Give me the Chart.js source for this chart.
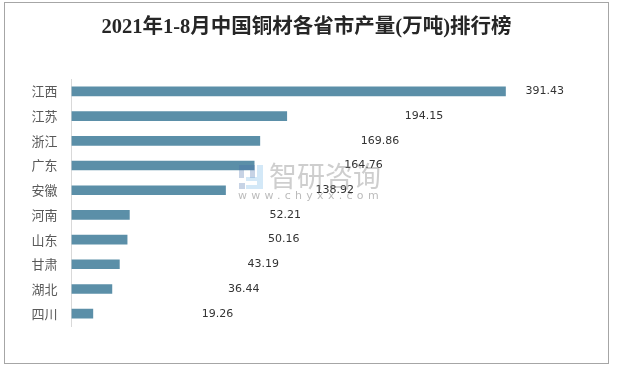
<!DOCTYPE html>
<html><head><meta charset="utf-8">
<style>html,body{margin:0;padding:0;background:#fff}#w{position:relative;width:617px;height:368px}canvas{display:block}</style>
<script src="https://cdn.jsdelivr.net/npm/chart.js@4"></script></head>
<body><div id="w"><canvas id="c" width="617" height="368"></canvas></div>
<script>
const titleText = '2021年1-8月中国铜材各省市产量(万吨)排行榜';
const categories = ['江西','江苏','浙江','广东','安徽','河南','山东','甘肃','湖北','四川'];
const values = [391.43,194.15,169.86,164.76,138.92,52.21,50.16,43.19,36.44,19.26];
const labelGaps = [20,118,101,90,90,140,141,128,116,109];

const cjk = '"Noto Sans CJK SC"';
const frame = {
  id:'frame',
  beforeDraw(ch){
    const g=ch.ctx; g.save();
    g.fillStyle='#fff'; g.fillRect(0,0,617,368);
    g.strokeStyle='#a6a6a6'; g.lineWidth=1; g.strokeRect(4.5,2.5,604,361);
    g.restore();
  }
};
const valueLabels = {
  id:'valueLabels',
  afterDatasetsDraw(ch){
    const g=ch.ctx, m=ch.getDatasetMeta(0); g.save();
    g.font='11px "DejaVu Sans"'; g.fillStyle='#333333'; g.textAlign='left'; g.textBaseline='middle';
    m.data.forEach((b,i)=>g.fillText(values[i].toFixed(2), b.x+labelGaps[i], b.y));
    g.restore();
  }
};
const watermark = {
  id:'watermark',
  afterDatasetsDraw(ch){
    const g=ch.ctx; g.save();
    g.fillStyle='rgba(70,110,170,0.3)';
    g.fillRect(239,165,16,5); g.fillRect(239,170,5,8); g.fillRect(250,170,5,8); g.fillRect(239,183,6,6);
    g.fillStyle='rgba(110,180,230,0.3)';
    g.fillRect(257,165,6,24); g.fillRect(246,177,11,4); g.fillRect(246,185,11,4);
    g.fillStyle='rgba(120,120,120,0.36)';
    g.font='28px '+cjk; g.textAlign='left'; g.textBaseline='middle';
    g.fillText('智研咨询',269,176);
    g.fillStyle='rgba(120,120,120,0.5)';
    g.font='11px "DejaVu Sans"';
    try{g.letterSpacing='4.3px';}catch(e){}
    g.fillText('www.chyxx.com',238,196);
    g.restore();
  }
};
new Chart(document.getElementById('c'),{
  type:'bar',
  data:{labels:categories,datasets:[{data:values,backgroundColor:'#5b8fa8',borderWidth:0,barThickness:9}]},
  plugins:[frame,valueLabels,watermark],
  options:{
    indexAxis:'y',responsive:false,animation:false,
    layout:{padding:{left:0,right:4,top:0,bottom:42}},
    plugins:{
      legend:{display:false},tooltip:{enabled:false},
      title:{display:true,text:titleText,color:'#262626',
        font:{family:'"Liberation Serif",'+cjk,size:20.5,weight:'bold'},
        padding:{top:15,bottom:39.5}}
    },
    scales:{
      x:{display:false,min:0,max:488.4},
      y:{
        afterFit(s){s.width=71.5;},
        grid:{display:false},
        border:{display:true,color:'#d9d9d9',width:1},
        ticks:{color:'#595959',padding:6,font:{family:cjk,size:13}}
      }
    }
  }
});
</script></body></html>
